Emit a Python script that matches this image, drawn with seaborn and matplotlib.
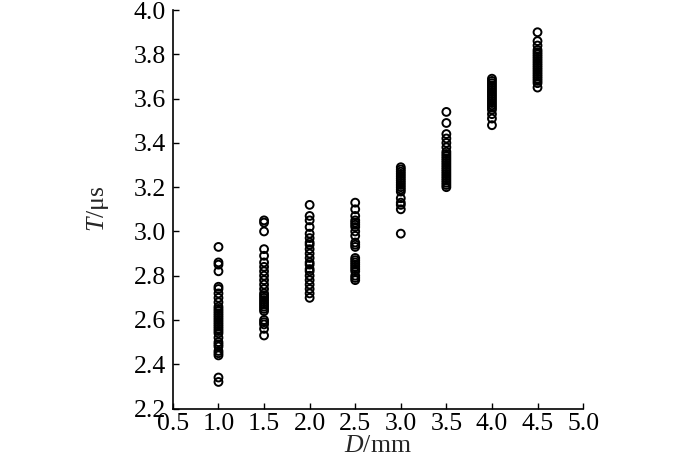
import numpy as np
import pandas as pd
import matplotlib
matplotlib.use("Agg")
import matplotlib.pyplot as plt
import seaborn as sns

# Data
d_levels = [1.0, 1.5, 2.0, 2.5, 3.0, 3.5, 4.0, 4.5]
t_d10 = [2.93, 2.86, 2.85, 2.82, 2.75, 2.74, 2.72, 2.70, 2.68, 2.66, 2.65, 2.64,
         2.63, 2.62, 2.61, 2.60, 2.59, 2.58, 2.57, 2.56, 2.55, 2.54, 2.52, 2.50,
         2.49, 2.48, 2.46, 2.45, 2.44, 2.34, 2.32]
t_d15 = [3.05, 3.04, 3.00, 2.92, 2.89, 2.86, 2.84, 2.82, 2.80, 2.78, 2.76, 2.74,
         2.72, 2.71, 2.70, 2.69, 2.68, 2.67, 2.66, 2.65, 2.64, 2.60, 2.59, 2.58,
         2.56, 2.53]
t_d20 = [3.12, 3.07, 3.05, 3.02, 2.99, 2.97, 2.95, 2.94, 2.92, 2.90, 2.88, 2.86,
         2.85, 2.83, 2.82, 2.80, 2.78, 2.76, 2.74, 2.72, 2.70]
t_d25 = [3.13, 3.10, 3.07, 3.05, 3.04, 3.03, 3.02, 3.00, 2.98, 2.95, 2.94, 2.93,
         2.88, 2.87, 2.86, 2.85, 2.84, 2.83, 2.82, 2.80, 2.79, 2.78]
t_d30 = [3.29, 3.28, 3.27, 3.26, 3.25, 3.24, 3.23, 3.22, 3.21, 3.20, 3.19, 3.18,
         3.15, 3.13, 3.12, 3.10, 2.99]
t_d35 = [3.54, 3.49, 3.44, 3.42, 3.40, 3.38, 3.36, 3.35, 3.34, 3.33, 3.32, 3.31,
         3.30, 3.29, 3.28, 3.27, 3.26, 3.25, 3.24, 3.23, 3.22, 3.21, 3.20]
t_d40 = [3.69, 3.68, 3.67, 3.66, 3.65, 3.64, 3.63, 3.62, 3.61, 3.60, 3.59, 3.58,
         3.57, 3.56, 3.55, 3.53, 3.51, 3.48]
t_d45 = [3.90, 3.86, 3.84, 3.82, 3.81, 3.80, 3.79, 3.78, 3.77, 3.76, 3.75, 3.74,
         3.73, 3.72, 3.71, 3.70, 3.69, 3.68, 3.67, 3.65]
x_ticks = [0.5, 1.0, 1.5, 2.0, 2.5, 3.0, 3.5, 4.0, 4.5, 5.0]
y_ticks = [2.2, 2.4, 2.6, 2.8, 3.0, 3.2, 3.4, 3.6, 3.8, 4.0]

series = [t_d10, t_d15, t_d20, t_d25, t_d30, t_d35, t_d40, t_d45]
rows = []
for d, ts in zip(d_levels, series):
    for t in ts:
        rows.append({"D": d, "T": t})
df = pd.DataFrame(rows)

sns.set_style("ticks")
plt.rcParams["font.family"] = ["Liberation Serif", "DejaVu Serif"]
plt.rcParams["mathtext.fontset"] = "custom"
plt.rcParams["mathtext.it"] = "Liberation Serif:italic"
plt.rcParams["mathtext.rm"] = "Liberation Serif"

fig = plt.figure(figsize=(7.0, 4.59), dpi=100)
ax = fig.add_axes([0.247, 0.11, 0.586, 0.868])

sns.scatterplot(data=df, x="D", y="T", ax=ax, marker="o", s=32,
                facecolors="none", edgecolor="black", linewidth=1.4, legend=False)

ax.set_xlim(0.5, 5.0)
ax.set_ylim(2.2, 4.0)
ax.set_xticks(x_ticks)
ax.set_xticklabels([f"{v:.1f}" for v in x_ticks])
ax.set_yticks(y_ticks)
ax.set_yticklabels([f"{v:.1f}" for v in y_ticks])
ax.tick_params(direction="in", length=4, width=1, labelsize=18.5, colors="black")
ax.tick_params(axis="y", pad=5)
ax.tick_params(axis="x", pad=3)
for side in ["top", "right"]:
    ax.spines[side].set_visible(False)
for side in ["left", "bottom"]:
    ax.spines[side].set_linewidth(1.2)
    ax.spines[side].set_color("black")

ax.set_xlabel(r"$D$/mm", fontsize=18.5, labelpad=0)
ax.set_ylabel(r"$T$/μs", fontsize=18.5, labelpad=16)

fig.savefig("out.png", dpi=100)
